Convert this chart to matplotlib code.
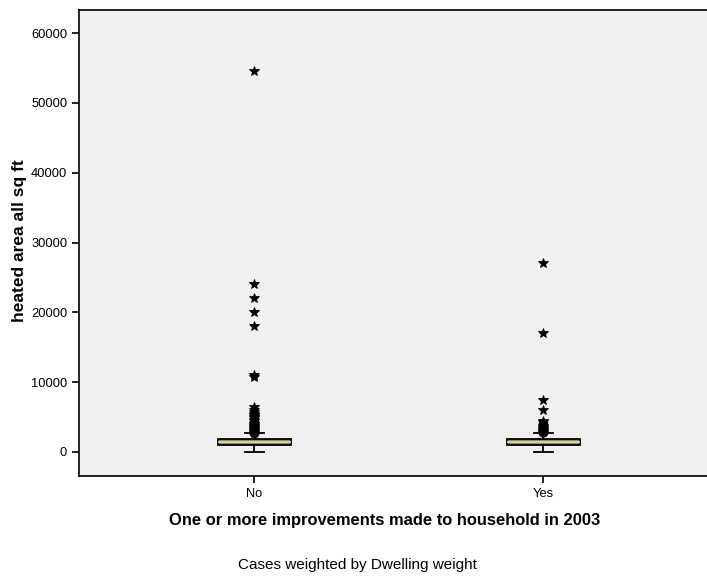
import matplotlib
matplotlib.use("Agg")
import matplotlib.pyplot as plt

plt.rcParams['font.family'] = ['Liberation Sans', 'DejaVu Sans']

# Gruppnamn och boxplot-statistik
groups = ["No", "Yes"]
q1 = [1000, 1000]
median = [1430, 1430]
q3 = [1860, 1860]
whisker_low = [0, 0]
whisker_high = [2700, 2700]

# Utliggare (cirklar) och extremvärden (stjärnor)
no_outliers = [2750, 2850, 2950, 3050, 3150, 3250, 3350, 3450, 3550, 3650,
               3750, 3850, 3950, 4050, 4150, 4250, 4350]
no_extremes = [4500, 4650, 4800, 4950, 5100, 5300, 5500, 5700, 6000, 6400,
               10800, 11000, 18000, 20000, 22000, 24000, 54500]
yes_outliers = [2800, 2900, 3000, 3100, 3200, 3300, 3400, 3500, 3600, 3700,
                3800, 3900, 4000]
yes_extremes = [4300, 4500, 6000, 7500, 17000, 27000]

yticks = [0, 10000, 20000, 30000, 40000, 50000, 60000]

fig = plt.figure(figsize=(7.07, 5.76), dpi=100)
ax = fig.add_axes([79/707, 1 - 476/576, 1 - 79/707, 466/576])
ax.set_facecolor('#F0F0F0')

stats = []
for i, g in enumerate(groups):
    stats.append(dict(label=g, q1=q1[i], med=median[i], q3=q3[i],
                      whislo=whisker_low[i], whishi=whisker_high[i], fliers=[]))

ax.bxp(stats, positions=[1, 2], widths=0.253, capwidths=0.066,
       showfliers=False, patch_artist=True,
       boxprops=dict(facecolor='#8F8B66', edgecolor='black', linewidth=1.3),
       medianprops=dict(color='#E6E0B4', linewidth=1.2),
       whiskerprops=dict(color='black', linewidth=1.3),
       capprops=dict(color='black', linewidth=1.3))

outliers = [no_outliers, yes_outliers]
extremes = [no_extremes, yes_extremes]
for i in range(len(groups)):
    ax.plot([i + 1] * len(outliers[i]), outliers[i], 'o', ms=6, mfc='none',
            mec='black', mew=1.0, zorder=4)
    ax.plot([i + 1] * len(extremes[i]), extremes[i], '*', ms=7.5, mfc='black',
            mec='black', mew=0.6, zorder=4)

ax.set_xlim(0.392, 2.568)
ax.set_ylim(-3437, 63296)
ax.set_yticks(yticks)
ax.set_yticklabels([str(t) for t in yticks])
ax.set_xticks([1, 2])
ax.set_xticklabels(groups)
ax.tick_params(axis='both', direction='out', length=5, width=1.2,
               labelsize=9.3, colors='black')
ax.spines['right'].set_visible(False)
for s in ['top', 'left', 'bottom']:
    ax.spines[s].set_linewidth(1.2)

ax.set_ylabel("heated area all sq ft", fontsize=12.5, fontweight='bold',
              va='center')
ax.yaxis.set_label_coords(-(79 - 20) / 628, (476 - 241) / 466)
ax.set_xlabel("One or more improvements made to household in 2003",
              fontsize=11.9, fontweight='bold', va='center')
ax.xaxis.set_label_coords((385 - 79) / 628, -(520 - 476) / 466)
fig.text(357/707, 1 - 565/576, "Cases weighted by Dwelling weight",
         ha='center', va='center', fontsize=11)

fig.savefig("out.png", dpi=100)
